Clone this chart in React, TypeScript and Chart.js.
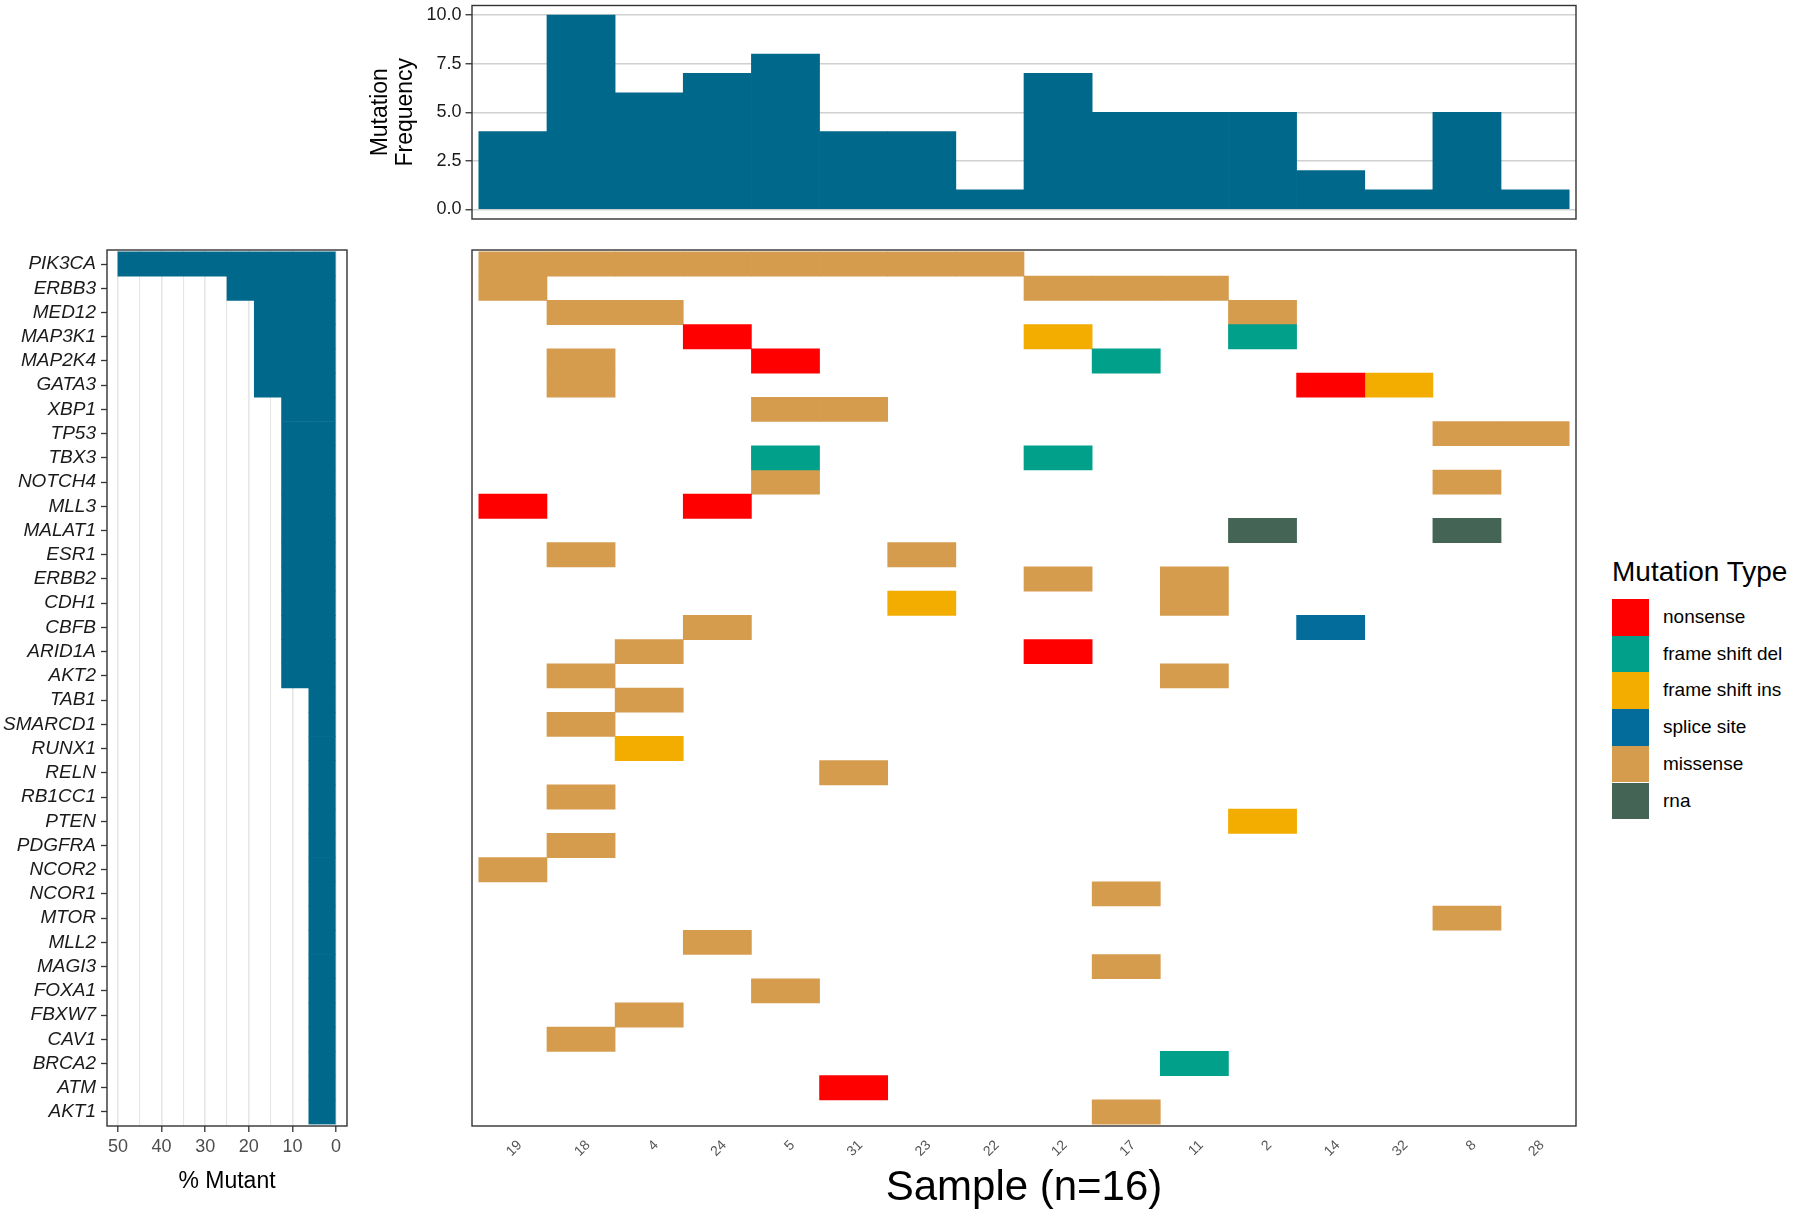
import React, { useEffect, useRef } from "react";
import { Chart, registerables } from "chart.js";

Chart.register(...registerables);

// ---------------- data ----------------
const samples = ["19", "18", "4", "24", "5", "31", "23", "22", "12", "17", "11", "2", "14", "32", "8", "28"];
const mutationFrequency = [4, 10, 6, 7, 8, 4, 4, 1, 7, 5, 5, 5, 2, 1, 5, 1];
const frequencyTicks = [0, 2.5, 5, 7.5, 10];

const genes = [
  "PIK3CA", "ERBB3", "MED12", "MAP3K1", "MAP2K4", "GATA3", "XBP1", "TP53", "TBX3", "NOTCH4",
  "MLL3", "MALAT1", "ESR1", "ERBB2", "CDH1", "CBFB", "ARID1A", "AKT2", "TAB1", "SMARCD1",
  "RUNX1", "RELN", "RB1CC1", "PTEN", "PDGFRA", "NCOR2", "NCOR1", "MTOR", "MLL2", "MAGI3",
  "FOXA1", "FBXW7", "CAV1", "BRCA2", "ATM", "AKT1",
];
const percentMutant = [
  50, 25, 18.75, 18.75, 18.75, 18.75, 12.5, 12.5, 12.5, 12.5,
  12.5, 12.5, 12.5, 12.5, 12.5, 12.5, 12.5, 12.5, 6.25, 6.25,
  6.25, 6.25, 6.25, 6.25, 6.25, 6.25, 6.25, 6.25, 6.25, 6.25,
  6.25, 6.25, 6.25, 6.25, 6.25, 6.25,
];
const mutantMajorTicks = [0, 10, 20, 30, 40, 50];
const mutantMinorTicks = [5, 15, 25, 35, 45];

const mutationTypes = ["nonsense", "frame shift del", "frame shift ins", "splice site", "missense", "rna"];

// [gene, sample, mutation type]
const tiles: [string, string, string][] = [
  ["PIK3CA", "19", "missense"], ["PIK3CA", "18", "missense"], ["PIK3CA", "4", "missense"], ["PIK3CA", "24", "missense"],
  ["PIK3CA", "5", "missense"], ["PIK3CA", "31", "missense"], ["PIK3CA", "23", "missense"], ["PIK3CA", "22", "missense"],
  ["ERBB3", "19", "missense"], ["ERBB3", "12", "missense"], ["ERBB3", "17", "missense"], ["ERBB3", "11", "missense"],
  ["MED12", "18", "missense"], ["MED12", "4", "missense"], ["MED12", "2", "missense"],
  ["MAP3K1", "24", "nonsense"], ["MAP3K1", "12", "frame shift ins"], ["MAP3K1", "2", "frame shift del"],
  ["MAP2K4", "18", "missense"], ["MAP2K4", "5", "nonsense"], ["MAP2K4", "17", "frame shift del"],
  ["GATA3", "18", "missense"], ["GATA3", "14", "nonsense"], ["GATA3", "32", "frame shift ins"],
  ["XBP1", "5", "missense"], ["XBP1", "31", "missense"],
  ["TP53", "8", "missense"], ["TP53", "28", "missense"],
  ["TBX3", "5", "frame shift del"], ["TBX3", "12", "frame shift del"],
  ["NOTCH4", "5", "missense"], ["NOTCH4", "8", "missense"],
  ["MLL3", "19", "nonsense"], ["MLL3", "24", "nonsense"],
  ["MALAT1", "2", "rna"], ["MALAT1", "8", "rna"],
  ["ESR1", "18", "missense"], ["ESR1", "23", "missense"],
  ["ERBB2", "12", "missense"], ["ERBB2", "11", "missense"],
  ["CDH1", "23", "frame shift ins"], ["CDH1", "11", "missense"],
  ["CBFB", "24", "missense"], ["CBFB", "14", "splice site"],
  ["ARID1A", "4", "missense"], ["ARID1A", "12", "nonsense"],
  ["AKT2", "18", "missense"], ["AKT2", "11", "missense"],
  ["TAB1", "4", "missense"],
  ["SMARCD1", "18", "missense"],
  ["RUNX1", "4", "frame shift ins"],
  ["RELN", "31", "missense"],
  ["RB1CC1", "18", "missense"],
  ["PTEN", "2", "frame shift ins"],
  ["PDGFRA", "18", "missense"],
  ["NCOR2", "19", "missense"],
  ["NCOR1", "17", "missense"],
  ["MTOR", "8", "missense"],
  ["MLL2", "24", "missense"],
  ["MAGI3", "17", "missense"],
  ["FOXA1", "5", "missense"],
  ["FBXW7", "4", "missense"],
  ["CAV1", "18", "missense"],
  ["BRCA2", "11", "frame shift del"],
  ["ATM", "31", "nonsense"],
  ["AKT1", "17", "missense"],
];

// ---------------- styles ----------------
const FONT = "'Liberation Sans', Arial, Helvetica, sans-serif";
Chart.defaults.font.family = FONT;
const typeColors: Record<string, string> = {
  nonsense: "#FF0000",
  "frame shift del": "#00A08A",
  "frame shift ins": "#F2AD00",
  "splice site": "#046C9A",
  missense: "#D69C4E",
  rna: "#446455",
};
const BAR_BLUE = "#00688B";
const COL_PAD = 0.1;
const ROW_PAD = 0.08;

const panelBorder = {
  id: "panelBorder",
  afterDraw(chart: any) {
    const { ctx, chartArea: a } = chart;
    ctx.save();
    ctx.strokeStyle = "#333333";
    ctx.lineWidth = 1.4;
    ctx.strokeRect(a.left, a.top, a.right - a.left, a.bottom - a.top);
    ctx.restore();
  },
};

const sampleTicks = (s: any) => {
  s.ticks = samples.map((_, i) => ({ value: i + 0.5 }));
};
const geneTicks = (s: any) => {
  s.ticks = genes.map((_, i) => ({ value: i }));
};

function topConfig(): any {
  return {
    type: "bar",
    data: {
      datasets: [
        {
          data: samples.map((s, i) => ({ x: i + 0.5, y: mutationFrequency[i] })),
          backgroundColor: BAR_BLUE,
          borderWidth: 0,
          categoryPercentage: 1,
          barPercentage: 1,
        },
      ],
    },
    options: {
      responsive: false,
      animation: false,
      layout: { padding: { top: 15.5, right: 14, bottom: 31, left: 0 } },
      plugins: { legend: { display: false }, tooltip: { enabled: false } },
      scales: {
        x: {
          type: "linear",
          offset: false,
          min: -COL_PAD,
          max: samples.length + COL_PAD,
          display: false,
          afterBuildTicks: sampleTicks,
        },
        y: {
          type: "linear",
          min: -0.5,
          max: 10.5,
          afterBuildTicks: (s: any) => {
            s.ticks = frequencyTicks.map((v) => ({ value: v }));
          },
          afterFit: (s: any) => {
            s.width = 172;
          },
          ticks: {
            callback: (v: any) => Number(v).toFixed(1),
            color: "#1a1a1a",
            font: { size: 18 },
            padding: 4,
            autoSkip: false,
          },
          grid: { color: "#D0D0D0", lineWidth: 1.5, tickLength: 6.5, tickColor: "#333333", tickWidth: 1.3 },
          border: { display: false },
          title: {
            display: true,
            text: ["Mutation", "Frequency"],
            color: "#000",
            font: { size: 23, lineHeight: 1.1 },
            padding: { top: 68, bottom: 0 },
          },
        },
      },
    },
    plugins: [panelBorder],
  };
}

function leftConfig(): any {
  return {
    type: "bar",
    data: {
      datasets: [
        {
          data: genes.map((g, i) => ({ x: percentMutant[i], y: i })),
          backgroundColor: BAR_BLUE,
          borderWidth: 0,
          categoryPercentage: 1,
          barPercentage: 1,
        },
      ],
    },
    options: {
      indexAxis: "y",
      responsive: false,
      animation: false,
      layout: { padding: { top: 30, right: 13, bottom: 0, left: 0 } },
      plugins: { legend: { display: false }, tooltip: { enabled: false } },
      scales: {
        x: {
          type: "linear",
          offset: false,
          min: -2.5,
          max: 52.5,
          reverse: true,
          afterBuildTicks: (s: any) => {
            s.ticks = [...mutantMajorTicks, ...mutantMinorTicks].sort((a, b) => a - b).map((v) => ({ value: v }));
          },
          afterFit: (s: any) => {
            s.height = 88;
          },
          ticks: {
            callback: (v: any) => (mutantMajorTicks.includes(Number(v)) ? String(v) : ""),
            color: "#4D4D4D",
            font: { size: 18 },
            padding: 4.5,
            autoSkip: false,
            maxRotation: 0,
          },
          grid: {
            offset: false,
            color: "#E6E6E6",
            lineWidth: (c: any) => (c.tick && mutantMajorTicks.includes(c.tick.value) ? 1.6 : 1.1),
            tickLength: 6,
            tickColor: (c: any) => (c.tick && mutantMajorTicks.includes(c.tick.value) ? "#333333" : "rgba(0,0,0,0)"),
            tickWidth: 1.3,
          },
          border: { display: false },
          title: {
            display: true,
            text: "% Mutant",
            color: "#000",
            font: { size: 23, lineHeight: 1.2 },
            padding: { top: 0, bottom: 18.7 },
          },
        },
        y: {
          type: "linear",
          offset: false,
          min: -0.5 - ROW_PAD,
          max: genes.length - 0.5 + ROW_PAD,
          reverse: true,
          afterBuildTicks: geneTicks,
          afterFit: (s: any) => {
            s.width = 107;
          },
          ticks: {
            callback: (v: any) => genes[Number(v)],
            color: "#1a1a1a",
            font: { size: 19, style: "italic" },
            padding: 5,
            autoSkip: false,
          },
          grid: { offset: false, drawOnChartArea: false, tickLength: 6, tickColor: "#333333", tickWidth: 1.3 },
          border: { display: false },
        },
      },
    },
    plugins: [panelBorder],
  };
}

function mainConfig(): any {
  return {
    type: "bar",
    data: {
      datasets: mutationTypes.map((t) => ({
        label: t,
        data: tiles
          .filter((m) => m[2] === t)
          .map(([g, s]) => ({ x: [samples.indexOf(s), samples.indexOf(s) + 1], y: genes.indexOf(g) })),
        backgroundColor: typeColors[t],
        borderWidth: 0,
        grouped: false,
        categoryPercentage: 1,
        barPercentage: 1,
      })),
    },
    options: {
      indexAxis: "y",
      responsive: false,
      animation: false,
      layout: { padding: { top: 10, right: 24, bottom: 0, left: 32 } },
      plugins: { legend: { display: false }, tooltip: { enabled: false } },
      scales: {
        x: {
          type: "linear",
          offset: false,
          min: -COL_PAD,
          max: samples.length + COL_PAD,
          afterBuildTicks: sampleTicks,
          afterFit: (s: any) => {
            s.height = 88;
          },
          ticks: {
            callback: (v: any) => samples[Math.floor(Number(v))],
            color: "#555555",
            font: { size: 14 },
            padding: 11,
            autoSkip: false,
            minRotation: 45,
            maxRotation: 45,
            labelOffset: 7,
          },
          grid: { display: false, drawTicks: false, offset: false },
          border: { display: false },
          title: {
            display: true,
            text: "Sample (n=16)",
            color: "#000",
            font: { size: 42, lineHeight: 1.2 },
            padding: { top: 0, bottom: 0 },
          },
        },
        y: {
          type: "linear",
          offset: false,
          min: -0.5 - ROW_PAD,
          max: genes.length - 0.5 + ROW_PAD,
          reverse: true,
          display: false,
          afterBuildTicks: geneTicks,
        },
      },
    },
    plugins: [panelBorder],
  };
}

function ChartCanvas(props: { config: () => any; left: number; top: number; width: number; height: number }) {
  const ref = useRef<HTMLCanvasElement>(null);
  useEffect(() => {
    const chart = new Chart(ref.current as HTMLCanvasElement, props.config());
    return () => chart.destroy();
  }, []);
  return (
    <canvas
      ref={ref}
      width={props.width}
      height={props.height}
      style={{ position: "absolute", left: props.left, top: props.top, width: props.width, height: props.height }}
    />
  );
}

export default function App() {
  const KEY = 36.7;
  return (
    <div style={{ position: "absolute", left: 0, top: 0, width: 1800, height: 1214, background: "#fff", overflow: "hidden" }}>
      <ChartCanvas config={topConfig} left={300} top={-10} width={1290} height={260} />
      <ChartCanvas config={leftConfig} left={0} top={220} width={360} height={994} />
      <ChartCanvas config={mainConfig} left={440} top={240} width={1160} height={974} />
      <div
        style={{
          position: "absolute",
          left: 1612,
          top: 555,
          font: `28px/34px ${FONT}`,
          color: "#000",
          whiteSpace: "nowrap",
        }}
      >
        Mutation Type
      </div>
      {mutationTypes.map((t, i) => (
        <React.Fragment key={t}>
          <div
            style={{
              position: "absolute",
              left: 1612,
              top: 599 + i * KEY,
              width: KEY,
              height: KEY,
              background: typeColors[t],
            }}
          />
          <div
            style={{
              position: "absolute",
              left: 1663,
              top: 599 + i * KEY,
              height: KEY,
              font: `19px/${KEY}px ${FONT}`,
              color: "#000",
              whiteSpace: "nowrap",
            }}
          >
            {t}
          </div>
        </React.Fragment>
      ))}
    </div>
  );
}
